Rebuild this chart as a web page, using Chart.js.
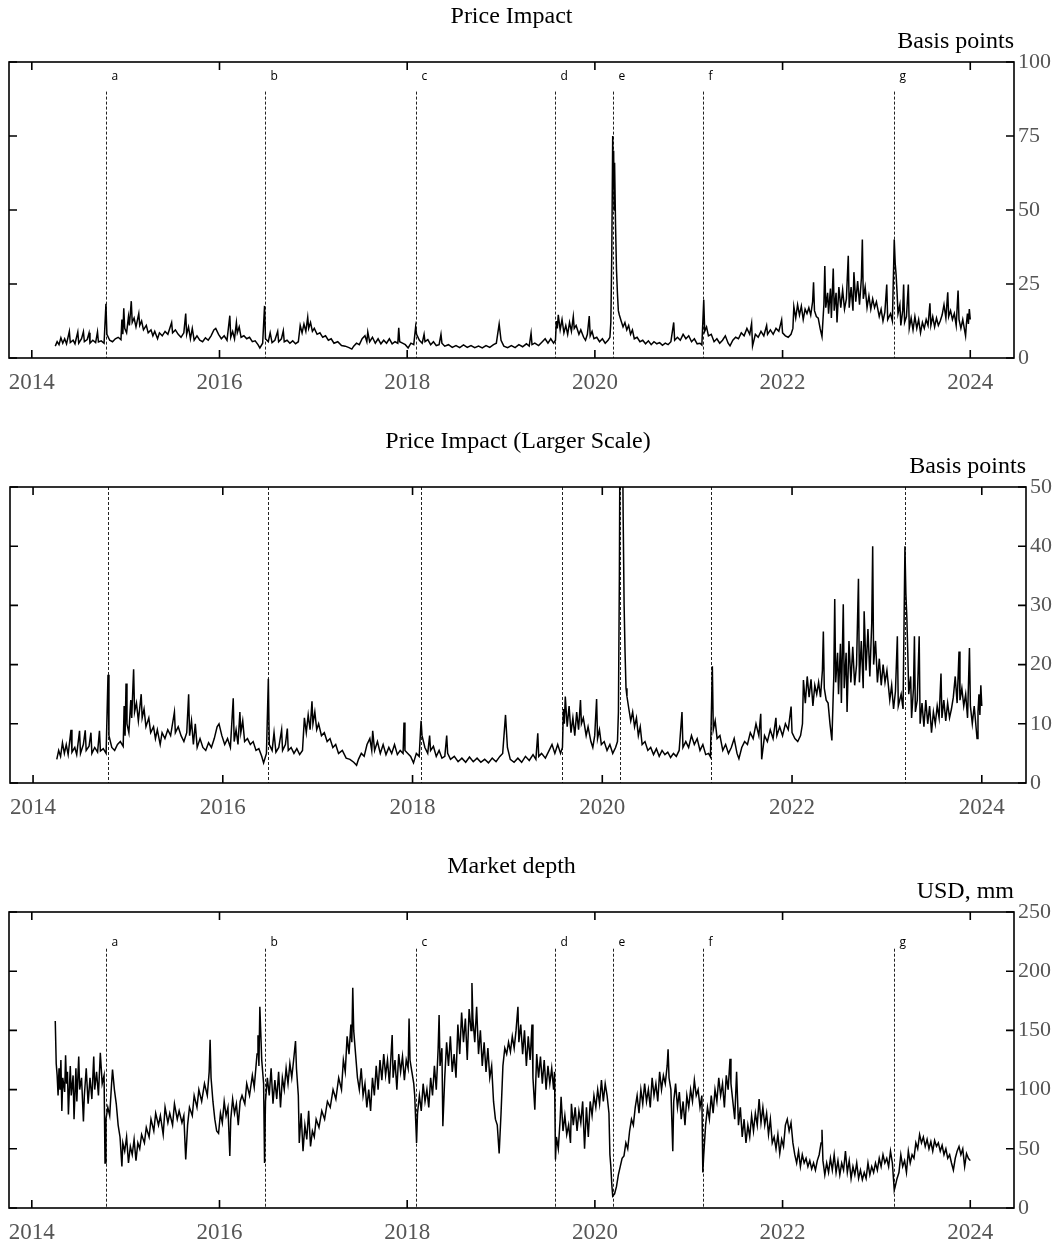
<!DOCTYPE html>
<html>
<head>
<meta charset="utf-8">
<script src="https://cdn.jsdelivr.net/npm/chart.js"></script>
<style>
  body { margin: 0; background: #fff; }
  canvas.panel { position: absolute; left: 0; }
</style>
</head>
<body>
<canvas id="impact" class="panel" width="1058" height="398" style="top:0px"></canvas>
<canvas id="impact-large" class="panel" width="1058" height="398" style="top:425px"></canvas>
<canvas id="depth" class="panel" width="1058" height="398" style="top:850px"></canvas>
<script>
// tick labels
const yearTicks = [2014, 2016, 2018, 2020, 2022, 2024];
const impactTicks = [0, 25, 50, 75, 100];
const impactLargeTicks = [0, 10, 20, 30, 40, 50];
const depthTicks = [0, 50, 100, 150, 200, 250];

// event markers
const eventYears = [2014.79, 2016.48, 2018.09, 2019.58, 2020.19, 2021.15, 2023.19];
const eventLabels = ['a', 'b', 'c', 'd', 'e', 'f', 'g'];

// price impact, basis points [year, value]
const priceImpact = [
  [2014.25,4.0],[2014.27,5.5],[2014.29,4.5],[2014.31,6.8],[2014.33,5.0],[2014.35,6.5],[2014.37,4.8],[2014.40,9.0],
  [2014.41,5.2],[2014.44,6.0],[2014.46,4.8],[2014.49,8.8],[2014.50,5.0],[2014.53,6.5],[2014.55,8.9],[2014.56,5.5],
  [2014.59,6.2],[2014.61,8.5],[2014.62,5.0],[2014.65,6.0],[2014.68,5.2],[2014.70,8.8],[2014.71,5.4],[2014.74,5.8],
  [2014.77,5.0],[2014.79,18.3],[2014.80,8.0],[2014.83,6.0],[2014.86,5.5],[2014.89,6.5],[2014.92,7.0],[2014.95,6.2],
  [2014.96,13.0],[2014.97,8.0],[2014.98,16.8],[2014.99,10.0],[2015.01,8.5],[2015.03,14.0],[2015.04,11.0],[2015.06,19.2],
  [2015.07,12.0],[2015.09,13.5],[2015.11,10.5],[2015.14,15.0],[2015.15,11.0],[2015.17,12.5],[2015.19,9.5],[2015.22,11.0],
  [2015.24,8.5],[2015.27,9.5],[2015.29,7.5],[2015.31,9.0],[2015.34,6.5],[2015.36,8.5],[2015.39,7.5],[2015.42,9.0],
  [2015.45,8.0],[2015.49,12.0],[2015.50,8.5],[2015.53,9.5],[2015.56,8.0],[2015.59,7.0],[2015.62,8.5],[2015.64,15.0],
  [2015.65,8.0],[2015.67,10.5],[2015.69,6.5],[2015.71,10.0],[2015.73,6.0],[2015.76,7.5],[2015.79,6.0],[2015.82,5.5],
  [2015.85,6.8],[2015.88,6.0],[2015.91,7.5],[2015.94,9.5],[2015.96,10.0],[2015.99,8.0],[2016.02,6.5],[2016.05,7.5],
  [2016.08,6.0],[2016.11,14.3],[2016.12,7.0],[2016.14,9.0],[2016.16,6.5],[2016.18,12.0],[2016.19,8.5],[2016.21,10.5],
  [2016.23,7.0],[2016.26,7.5],[2016.29,6.5],[2016.32,7.0],[2016.35,5.5],[2016.38,5.8],[2016.41,4.5],[2016.43,3.4],
  [2016.46,5.0],[2016.48,17.6],[2016.49,6.5],[2016.52,5.5],[2016.54,8.5],[2016.56,5.2],[2016.59,6.0],[2016.62,9.0],
  [2016.63,5.5],[2016.66,6.5],[2016.68,9.2],[2016.69,5.5],[2016.72,6.0],[2016.75,5.0],[2016.78,5.8],[2016.81,4.8],
  [2016.84,5.5],[2016.86,11.0],[2016.88,8.5],[2016.90,11.5],[2016.92,9.0],[2016.94,13.8],[2016.95,10.0],[2016.97,12.0],
  [2016.99,9.0],[2017.01,10.0],[2017.04,8.0],[2017.07,8.5],[2017.10,7.0],[2017.13,7.5],[2017.16,6.0],[2017.19,6.5],
  [2017.22,5.0],[2017.26,5.5],[2017.30,4.2],[2017.34,4.0],[2017.38,3.5],[2017.41,3.0],[2017.43,4.0],[2017.46,5.0],
  [2017.49,4.5],[2017.52,6.5],[2017.55,7.5],[2017.57,5.5],[2017.58,8.8],[2017.60,5.5],[2017.63,7.0],[2017.66,5.0],
  [2017.69,6.5],[2017.72,4.8],[2017.75,6.0],[2017.78,5.0],[2017.81,6.5],[2017.84,4.8],[2017.87,5.5],[2017.90,5.0],
  [2017.91,10.2],[2017.92,5.5],[2017.95,5.0],[2017.98,4.5],[2018.01,3.4],[2018.04,5.0],[2018.07,4.5],[2018.09,10.5],
  [2018.10,8.0],[2018.13,6.0],[2018.16,5.0],[2018.18,8.0],[2018.19,5.5],[2018.22,6.2],[2018.25,4.5],[2018.28,5.5],
  [2018.31,4.2],[2018.34,4.5],[2018.36,8.0],[2018.37,5.0],[2018.40,4.0],[2018.44,4.5],[2018.48,3.6],[2018.52,4.2],
  [2018.56,3.5],[2018.60,4.4],[2018.64,3.6],[2018.68,4.2],[2018.72,3.5],[2018.76,4.0],[2018.80,3.4],[2018.84,4.2],
  [2018.88,3.6],[2018.92,4.5],[2018.95,5.0],[2018.98,11.5],[2019.00,6.0],[2019.03,4.0],[2019.07,3.5],[2019.11,4.2],
  [2019.15,3.5],[2019.19,4.5],[2019.23,3.8],[2019.27,4.8],[2019.30,4.0],[2019.32,8.4],[2019.33,4.5],[2019.36,5.0],
  [2019.40,4.2],[2019.44,5.5],[2019.47,6.5],[2019.50,5.0],[2019.53,6.5],[2019.56,5.0],[2019.58,6.0],[2019.59,12.5],
  [2019.60,10.0],[2019.61,14.6],[2019.63,9.5],[2019.65,13.0],[2019.67,8.5],[2019.69,11.0],[2019.71,8.0],[2019.73,12.0],
  [2019.75,9.0],[2019.77,14.0],[2019.78,10.0],[2019.80,11.0],[2019.83,8.0],[2019.85,9.5],[2019.88,7.0],[2019.90,6.0],
  [2019.92,8.0],[2019.94,14.2],[2019.95,7.5],[2019.97,9.0],[2019.99,6.5],[2020.02,7.0],[2020.05,5.5],[2020.08,6.5],
  [2020.11,5.0],[2020.14,6.0],[2020.16,7.0],[2020.17,12.0],[2020.18,35.0],[2020.19,75.0],[2020.195,58.0],[2020.20,70.0],
  [2020.205,50.0],[2020.21,66.0],[2020.22,45.0],[2020.23,30.0],[2020.24,22.0],[2020.25,16.0],[2020.26,14.6],[2020.28,12.5],
  [2020.30,10.5],[2020.32,12.0],[2020.34,9.5],[2020.36,11.0],[2020.38,8.0],[2020.40,9.5],[2020.42,6.5],[2020.45,7.0],
  [2020.48,5.5],[2020.51,6.0],[2020.54,4.8],[2020.57,5.8],[2020.60,4.5],[2020.63,5.5],[2020.66,4.8],[2020.69,5.2],
  [2020.72,4.3],[2020.75,5.0],[2020.78,4.5],[2020.81,5.5],[2020.84,12.0],[2020.85,6.0],[2020.88,7.0],[2020.91,6.0],
  [2020.94,8.0],[2020.97,6.5],[2021.00,7.5],[2021.03,5.5],[2021.06,6.5],[2021.09,4.8],[2021.12,5.0],[2021.14,4.4],
  [2021.16,19.7],[2021.17,9.0],[2021.19,10.5],[2021.21,7.5],[2021.24,8.0],[2021.27,5.5],[2021.30,6.5],[2021.33,5.0],
  [2021.36,6.0],[2021.39,7.5],[2021.42,5.0],[2021.44,4.1],[2021.47,6.0],[2021.50,7.0],[2021.53,6.5],[2021.56,8.5],
  [2021.59,7.5],[2021.62,10.0],[2021.65,8.0],[2021.67,11.7],[2021.68,4.0],[2021.71,8.0],[2021.74,7.0],[2021.77,9.0],
  [2021.80,7.5],[2021.83,11.0],[2021.84,8.0],[2021.87,9.5],[2021.90,8.0],[2021.93,10.0],[2021.96,9.0],[2021.99,12.9],
  [2022.00,8.5],[2022.03,7.5],[2022.06,7.0],[2022.09,8.0],[2022.11,10.0],[2022.12,17.4],[2022.14,13.5],[2022.16,18.0],
  [2022.18,14.5],[2022.20,17.5],[2022.22,13.0],[2022.24,16.5],[2022.26,15.0],[2022.28,17.0],[2022.30,14.5],[2022.32,19.0],
  [2022.33,25.6],[2022.34,16.0],[2022.36,14.0],[2022.38,13.5],[2022.40,10.0],[2022.42,7.2],[2022.44,18.0],[2022.45,31.1],
  [2022.46,17.0],[2022.48,22.0],[2022.49,15.0],[2022.51,23.5],[2022.52,13.5],[2022.54,30.2],[2022.55,16.0],[2022.57,22.0],
  [2022.58,12.0],[2022.60,24.0],[2022.62,17.0],[2022.64,23.0],[2022.66,16.5],[2022.68,20.0],[2022.70,34.5],[2022.71,17.0],
  [2022.73,24.0],[2022.75,16.0],[2022.76,29.0],[2022.78,19.0],[2022.80,26.0],[2022.82,18.0],[2022.84,27.0],[2022.85,40.0],
  [2022.86,20.0],[2022.88,24.0],[2022.90,17.0],[2022.92,21.0],[2022.94,16.5],[2022.96,20.0],[2022.98,17.0],[2023.00,19.0],
  [2023.03,14.0],[2023.05,16.5],[2023.07,12.5],[2023.09,15.5],[2023.11,24.8],[2023.12,13.0],[2023.15,15.0],[2023.17,12.5],
  [2023.19,40.0],[2023.20,32.0],[2023.21,28.0],[2023.22,22.0],[2023.23,15.0],[2023.25,18.0],[2023.26,11.0],[2023.28,16.0],
  [2023.29,24.8],[2023.30,12.0],[2023.32,14.0],[2023.34,24.8],[2023.35,10.0],[2023.37,13.5],[2023.39,9.5],[2023.41,14.0],
  [2023.43,10.0],[2023.45,13.0],[2023.47,8.5],[2023.49,12.0],[2023.51,10.0],[2023.53,13.0],[2023.55,11.0],[2023.57,18.5],
  [2023.58,11.0],[2023.60,14.0],[2023.62,10.5],[2023.64,13.5],[2023.66,11.0],[2023.68,12.5],[2023.70,14.5],[2023.72,18.0],
  [2023.74,13.5],[2023.76,22.2],[2023.77,14.0],[2023.79,16.0],[2023.81,13.0],[2023.83,15.0],[2023.85,11.0],[2023.87,22.8],
  [2023.88,13.0],[2023.90,10.0],[2023.92,13.0],[2023.95,7.5],[2023.96,12.0],[2023.97,15.0],[2023.98,11.5],[2023.99,16.5],
  [2024.00,13.0]
];

// market depth, USD mm [year, value]
const marketDepth = [
  [2014.25,158],[2014.26,122],[2014.27,112],[2014.28,95],[2014.29,118],[2014.30,100],[2014.31,125],[2014.32,82],
  [2014.33,110],[2014.35,98],[2014.36,129],[2014.37,105],[2014.38,115],[2014.39,79],[2014.41,120],[2014.42,95],
  [2014.44,112],[2014.45,75],[2014.47,118],[2014.48,90],[2014.50,128],[2014.51,100],[2014.53,110],[2014.55,73],
  [2014.56,95],[2014.58,118],[2014.60,88],[2014.62,110],[2014.64,92],[2014.66,128],[2014.67,100],[2014.69,115],
  [2014.71,95],[2014.73,131],[2014.75,105],[2014.77,112],[2014.78,38],[2014.79,75],[2014.81,85],[2014.83,78],
  [2014.85,105],[2014.86,117],[2014.88,100],[2014.90,88],[2014.92,70],[2014.94,60],[2014.96,35],[2014.97,55],
  [2014.99,48],[2015.01,60],[2015.03,38],[2015.05,52],[2015.07,45],[2015.09,58],[2015.11,40],[2015.13,55],
  [2015.15,50],[2015.17,62],[2015.20,55],[2015.22,68],[2015.25,60],[2015.27,75],[2015.30,65],[2015.32,80],
  [2015.35,70],[2015.37,78],[2015.40,62],[2015.42,85],[2015.45,72],[2015.47,80],[2015.50,70],[2015.52,88],
  [2015.55,75],[2015.57,82],[2015.60,72],[2015.62,78],[2015.64,41],[2015.66,70],[2015.68,85],[2015.71,78],
  [2015.73,95],[2015.76,85],[2015.78,100],[2015.81,90],[2015.84,105],[2015.87,95],[2015.89,115],[2015.90,142],
  [2015.91,110],[2015.93,90],[2015.95,75],[2015.97,65],[2015.99,63],[2016.01,80],[2016.03,72],[2016.05,90],
  [2016.07,78],[2016.09,85],[2016.11,44],[2016.12,75],[2016.14,92],[2016.16,80],[2016.18,88],[2016.20,70],
  [2016.22,90],[2016.24,95],[2016.27,88],[2016.29,105],[2016.32,95],[2016.35,112],[2016.37,102],[2016.40,130],
  [2016.41,146],[2016.42,120],[2016.43,170],[2016.45,125],[2016.47,105],[2016.48,38],[2016.49,90],[2016.51,110],
  [2016.53,95],[2016.55,118],[2016.57,88],[2016.59,108],[2016.61,92],[2016.63,115],[2016.65,85],[2016.67,110],
  [2016.69,100],[2016.71,118],[2016.73,105],[2016.75,122],[2016.77,110],[2016.79,125],[2016.81,141],[2016.82,118],
  [2016.84,95],[2016.85,55],[2016.87,80],[2016.89,48],[2016.91,70],[2016.93,58],[2016.95,82],[2016.97,52],
  [2016.99,65],[2017.01,60],[2017.03,75],[2017.06,68],[2017.09,82],[2017.12,75],[2017.15,90],[2017.18,85],
  [2017.21,100],[2017.24,92],[2017.27,110],[2017.30,100],[2017.32,125],[2017.34,115],[2017.36,145],[2017.38,130],
  [2017.40,155],[2017.41,140],[2017.42,186],[2017.43,150],[2017.45,130],[2017.47,110],[2017.49,100],[2017.51,118],
  [2017.53,95],[2017.55,105],[2017.57,85],[2017.59,100],[2017.61,82],[2017.63,110],[2017.65,95],[2017.67,120],
  [2017.69,100],[2017.71,125],[2017.73,108],[2017.75,130],[2017.77,112],[2017.79,125],[2017.81,105],[2017.84,146],
  [2017.85,110],[2017.87,125],[2017.89,100],[2017.91,130],[2017.93,115],[2017.95,128],[2017.97,108],[2017.99,125],
  [2018.01,118],[2018.02,160],[2018.03,125],[2018.05,115],[2018.07,105],[2018.08,95],[2018.10,55],[2018.11,80],
  [2018.13,95],[2018.15,82],[2018.17,105],[2018.19,90],[2018.21,100],[2018.23,85],[2018.25,110],[2018.27,95],
  [2018.29,120],[2018.31,100],[2018.33,135],[2018.34,163],[2018.35,120],[2018.37,135],[2018.38,69],[2018.40,110],
  [2018.42,140],[2018.44,120],[2018.46,145],[2018.48,115],[2018.50,130],[2018.52,110],[2018.54,155],[2018.56,130],
  [2018.58,165],[2018.60,140],[2018.62,160],[2018.64,125],[2018.66,168],[2018.68,150],[2018.69,190],[2018.70,160],
  [2018.72,140],[2018.74,170],[2018.76,130],[2018.78,150],[2018.80,120],[2018.82,140],[2018.84,115],[2018.86,135],
  [2018.88,110],[2018.90,120],[2018.92,90],[2018.94,75],[2018.96,70],[2018.98,46],[2019.00,80],[2019.02,120],
  [2019.04,135],[2019.06,130],[2019.08,140],[2019.10,132],[2019.12,145],[2019.14,135],[2019.16,150],[2019.18,170],
  [2019.19,140],[2019.21,155],[2019.23,130],[2019.25,150],[2019.27,120],[2019.29,145],[2019.31,125],[2019.33,155],
  [2019.34,110],[2019.36,83],[2019.38,130],[2019.40,110],[2019.42,128],[2019.44,105],[2019.46,125],[2019.48,100],
  [2019.50,120],[2019.52,105],[2019.54,118],[2019.56,100],[2019.57,115],[2019.58,41],[2019.59,60],[2019.61,50],
  [2019.63,75],[2019.64,94],[2019.66,65],[2019.68,78],[2019.70,62],[2019.72,70],[2019.74,55],[2019.75,88],
  [2019.77,70],[2019.79,85],[2019.81,65],[2019.83,82],[2019.85,72],[2019.87,90],[2019.89,50],[2019.91,85],
  [2019.93,60],[2019.95,90],[2019.97,78],[2019.99,95],[2020.01,85],[2020.03,100],[2020.05,88],[2020.07,108],
  [2020.09,90],[2020.11,105],[2020.13,95],[2020.15,80],[2020.16,45],[2020.17,35],[2020.18,20],[2020.19,10],
  [2020.21,12],[2020.23,18],[2020.25,28],[2020.27,35],[2020.29,42],[2020.31,44],[2020.33,55],[2020.35,50],
  [2020.37,65],[2020.39,75],[2020.41,70],[2020.43,85],[2020.45,95],[2020.47,80],[2020.49,100],[2020.51,88],
  [2020.53,105],[2020.55,90],[2020.57,100],[2020.59,85],[2020.61,110],[2020.63,95],[2020.65,105],[2020.67,90],
  [2020.69,115],[2020.71,100],[2020.73,112],[2020.75,105],[2020.77,120],[2020.78,134],[2020.79,110],[2020.81,100],
  [2020.83,48],[2020.84,90],[2020.86,105],[2020.88,85],[2020.90,98],[2020.92,75],[2020.94,90],[2020.96,70],
  [2020.98,95],[2021.00,85],[2021.02,100],[2021.04,90],[2021.06,108],[2021.08,95],[2021.10,100],[2021.12,85],
  [2021.14,95],[2021.15,30],[2021.16,45],[2021.18,70],[2021.20,85],[2021.22,75],[2021.24,95],[2021.26,80],
  [2021.28,100],[2021.30,90],[2021.32,110],[2021.34,95],[2021.36,105],[2021.38,85],[2021.40,112],[2021.42,100],
  [2021.44,126],[2021.45,105],[2021.47,90],[2021.49,75],[2021.51,115],[2021.53,70],[2021.55,85],[2021.57,60],
  [2021.59,75],[2021.61,55],[2021.63,70],[2021.65,60],[2021.67,78],[2021.69,65],[2021.71,80],[2021.73,70],
  [2021.75,92],[2021.77,72],[2021.79,85],[2021.81,70],[2021.83,80],[2021.85,62],[2021.87,75],[2021.89,55],
  [2021.91,60],[2021.93,50],[2021.95,62],[2021.97,46],[2021.99,58],[2022.01,52],[2022.03,70],[2022.05,75],
  [2022.07,65],[2022.09,72],[2022.11,55],[2022.13,45],[2022.15,38],[2022.17,48],[2022.19,35],[2022.21,45],
  [2022.23,38],[2022.25,42],[2022.27,35],[2022.29,40],[2022.31,33],[2022.33,38],[2022.35,32],[2022.37,40],
  [2022.39,45],[2022.41,55],[2022.42,66],[2022.43,40],[2022.45,28],[2022.47,38],[2022.49,30],[2022.51,42],
  [2022.53,32],[2022.55,45],[2022.57,30],[2022.59,40],[2022.61,28],[2022.63,38],[2022.65,32],[2022.67,48],
  [2022.69,30],[2022.71,40],[2022.73,25],[2022.75,35],[2022.77,28],[2022.79,38],[2022.81,25],[2022.83,32],
  [2022.85,24],[2022.87,30],[2022.89,25],[2022.91,38],[2022.93,28],[2022.95,35],[2022.97,30],[2022.99,38],
  [2023.01,32],[2023.03,42],[2023.05,35],[2023.07,45],[2023.09,38],[2023.11,42],[2023.13,35],[2023.15,48],
  [2023.17,38],[2023.19,15],[2023.20,18],[2023.22,25],[2023.24,30],[2023.26,45],[2023.28,35],[2023.30,40],
  [2023.32,30],[2023.34,48],[2023.36,38],[2023.38,45],[2023.40,42],[2023.42,55],[2023.44,50],[2023.46,62],
  [2023.48,55],[2023.50,60],[2023.52,52],[2023.54,58],[2023.56,50],[2023.58,56],[2023.60,48],[2023.62,57],
  [2023.64,52],[2023.66,55],[2023.68,48],[2023.70,53],[2023.72,45],[2023.74,50],[2023.76,42],[2023.78,45],
  [2023.80,38],[2023.82,32],[2023.84,42],[2023.86,48],[2023.88,52],[2023.90,45],[2023.92,50],[2023.94,35],
  [2023.96,46],[2023.98,42],[2024.00,40]
];

const SERIF = '"Liberation Serif", "DejaVu Serif", serif';

// frame, inward ticks, event lines, titles
const panelDecor = {
  id: 'panelDecor',
  beforeDatasetsDraw(chart, args, opts) {
    const { ctx, chartArea: a, scales: { x, y } } = chart;
    ctx.save();
    ctx.strokeStyle = '#222';
    ctx.lineWidth = 1;
    ctx.setLineDash([3, 2]);
    ctx.fillStyle = '#000';
    ctx.font = '12px "Open Sans", "DejaVu Sans", sans-serif';
    ctx.textBaseline = 'middle';
    ctx.textAlign = 'left';
    eventYears.forEach((yr, i) => {
      const px = Math.round(x.getPixelForValue(yr)) + 0.5;
      const top = opts.lineTop == null ? a.top : y.getPixelForValue(opts.lineTop);
      ctx.beginPath();
      ctx.moveTo(px, top);
      ctx.lineTo(px, a.bottom);
      ctx.stroke();
      if (opts.labelAt != null) {
        ctx.fillText(eventLabels[i], px + 5, y.getPixelForValue(opts.labelAt));
      }
    });
    ctx.restore();
  },
  afterDatasetsDraw(chart, args, opts) {
    const { ctx, chartArea: a, scales: { x, y } } = chart;
    ctx.save();
    ctx.strokeStyle = '#000';
    ctx.lineWidth = 1.6;
    ctx.strokeRect(a.left, a.top, a.right - a.left, a.bottom - a.top);
    ctx.beginPath();
    yearTicks.forEach(v => {
      const px = x.getPixelForValue(v);
      ctx.moveTo(px, a.bottom); ctx.lineTo(px, a.bottom - 8);
      ctx.moveTo(px, a.top); ctx.lineTo(px, a.top + 8);
    });
    opts.yTicks.forEach(v => {
      const py = y.getPixelForValue(v);
      ctx.moveTo(a.left, py); ctx.lineTo(a.left + 8, py);
      ctx.moveTo(a.right, py); ctx.lineTo(a.right - 8, py);
    });
    ctx.stroke();

    ctx.fillStyle = '#000';
    ctx.font = '24px ' + SERIF;
    ctx.textBaseline = 'alphabetic';
    ctx.textAlign = 'center';
    ctx.fillText(opts.title, (a.left + a.right) / 2, a.top - 39);
    ctx.textAlign = 'right';
    ctx.fillText(opts.unit, a.right, a.top - 14);
    ctx.restore();
  }
};

function buildPanel(id, p) {
  return new Chart(document.getElementById(id), {
    type: 'line',
    data: {
      datasets: [{
        data: p.series.map(([x, y]) => ({ x, y })),
        borderColor: '#000',
        borderWidth: 1.5,
        pointRadius: 0,
        tension: 0,
        clip: 0
      }]
    },
    options: {
      responsive: false,
      animation: false,
      events: [],
      layout: { padding: { top: 62, left: p.left, right: 0, bottom: 0 } },
      plugins: {
        legend: { display: false },
        tooltip: { enabled: false },
        panelDecor: { title: p.title, unit: p.unit, yTicks: p.yTicks, lineTop: p.lineTop, labelAt: p.labelAt }
      },
      scales: {
        x: {
          type: 'linear',
          position: 'bottom',
          min: 2013.757,
          max: 2024.466,
          afterBuildTicks: s => { s.ticks = yearTicks.map(v => ({ value: v })); },
          afterFit: s => { s.height = 40; s.paddingLeft = 0; s.paddingRight = 0; },
          grid: { display: false, drawTicks: false },
          border: { display: false },
          ticks: {
            autoSkip: false, maxRotation: 0, minRotation: 0, padding: 13, color: '#555',
            font: { family: SERIF, size: 23, lineHeight: 1 },
            callback: v => String(v)
          }
        },
        y: {
          position: 'right',
          min: 0,
          max: p.yTicks[p.yTicks.length - 1],
          afterBuildTicks: s => { s.ticks = p.yTicks.map(v => ({ value: v })); },
          afterFit: s => { s.width = 1058 - p.right; s.paddingTop = 0; s.paddingBottom = 0; },
          grid: { display: false, drawTicks: false },
          border: { display: false },
          ticks: {
            autoSkip: false, padding: 4, color: '#555',
            font: { family: SERIF, size: 22, lineHeight: 1 },
            callback: v => String(v)
          }
        }
      }
    },
    plugins: [panelDecor]
  });
}

buildPanel('impact', {
  series: priceImpact, yTicks: impactTicks, title: 'Price Impact', unit: 'Basis points',
  left: 9, right: 1014, lineTop: 90, labelAt: 95
});
buildPanel('impact-large', {
  series: priceImpact, yTicks: impactLargeTicks, title: 'Price Impact (Larger Scale)', unit: 'Basis points',
  left: 10, right: 1026, lineTop: null, labelAt: null
});
buildPanel('depth', {
  series: marketDepth, yTicks: depthTicks, title: 'Market depth', unit: 'USD, mm',
  left: 9, right: 1014, lineTop: 219, labelAt: 224
});
</script>
</body>
</html>
